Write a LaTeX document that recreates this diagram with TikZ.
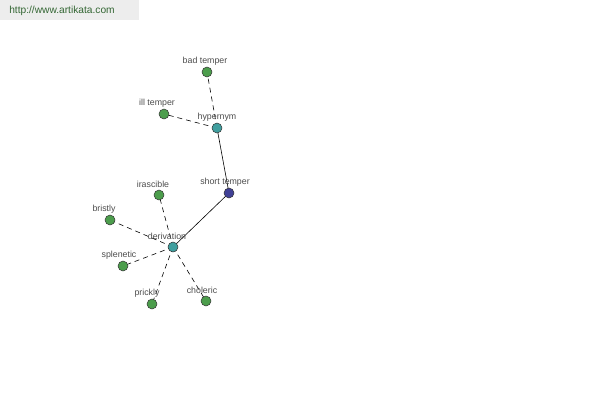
\documentclass[tikz,border=0pt]{standalone}
\usepackage{fontspec}
\setmainfont{Liberation Sans}
\usetikzlibrary{positioning,backgrounds}

\begin{document}
\begin{tikzpicture}[x=1pt, y=-1pt,
        word/.style={circle, draw=black!80, fill=green!45!black!70!white, line width=0.5pt, minimum size=10pt, inner sep=0pt},
        relation/.style={word, fill=teal!75!white},
        root/.style={word, fill=blue!45!black!75!white},
        tag/.style={font=\fontsize{8.8}{9}\selectfont, text=black!70, inner sep=0pt},
        link/.style={dash pattern=on 5pt off 4pt, line width=0.6pt},
    ]
    \useasboundingbox (0,0) rectangle (600,400);
    \fill[black!7] (0,0) rectangle (139,20);
    \node[font=\fontsize{10.2}{11}\selectfont, text=green!25!black!80] (site) at (62,11) {http://www.artikata.com};

    \node[root] (short) at (229,193) {};
    \node[relation] (hyper) at (217,128) {};
    \node[relation] (deriv) at (173,247) {};
    \node[word] (bad) at (207,72) {};
    \node[word] (ill) at (164,114) {};
    \node[word] (irasc) at (159,195) {};
    \node[word] (bristly) at (110,220) {};
    \node[word] (splen) at (123,266) {};
    \node[word] (prickly) at (152,304) {};
    \node[word] (choler) at (206,301) {};

    \node[tag] (shortlbl) at (225,182) {short temper};
    \node[tag] (hyperlbl) at (217,117) {hypernym};
    \node[tag] (derivlbl) at (167,236) {derivation};
    \node[tag] (badlbl) at (205,61) {bad temper};
    \node[tag] (illlbl) at (157,103) {ill temper};
    \node[tag] (irasclbl) at (153,184) {irascible};
    \node[tag] (bristlylbl) at (104,209) {bristly};
    \node[tag] (splenlbl) at (119,255) {splenetic};
    \node[tag] (pricklylbl) at (147,293) {prickly};
    \node[tag] (cholerlbl) at (202,290) {choleric};

    \begin{scope}[on background layer]
    \path[line width=0.6pt] (short.center) edge (hyper.center);
    \path[line width=0.6pt] (short.center) edge (deriv.center);
    \path[link] (hyper.center) edge (bad.center);
    \path[link] (hyper.center) edge (ill.center);
    \path[link] (deriv.center) edge (irasc.center);
    \path[link] (deriv.center) edge (bristly.center);
    \path[link] (deriv.center) edge (splen.center);
    \path[link] (deriv.center) edge (prickly.center);
    \path[link] (deriv.center) edge (choler.center);
    \end{scope}
\end{tikzpicture}
\end{document}
